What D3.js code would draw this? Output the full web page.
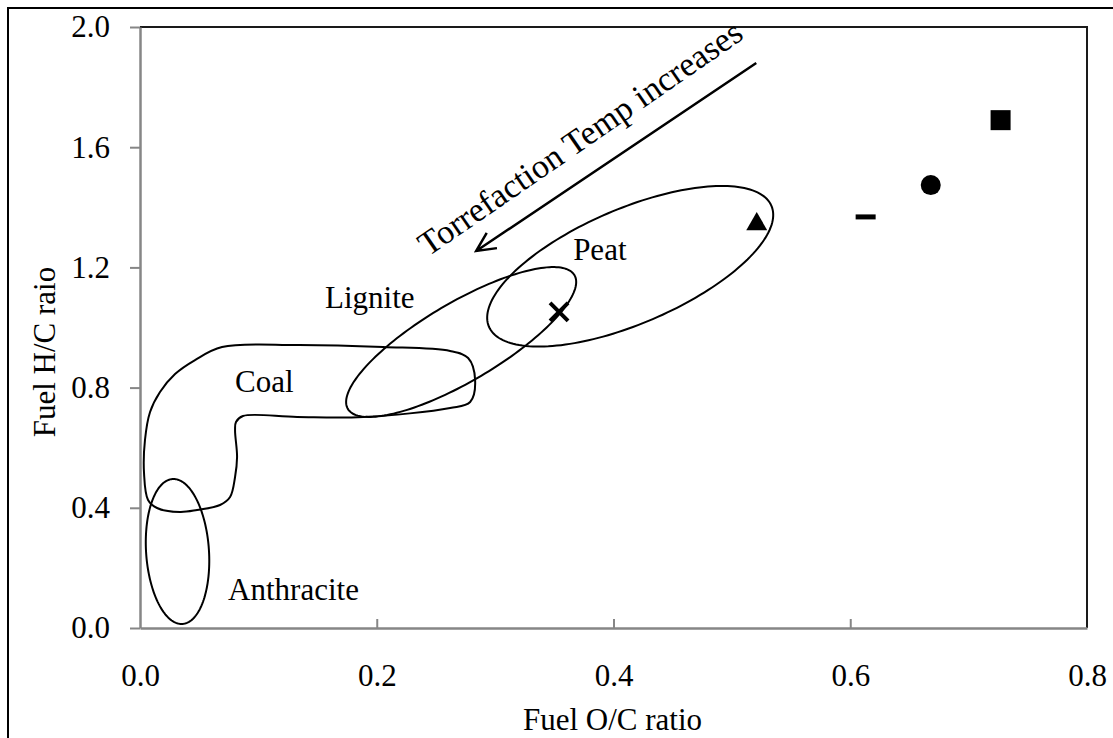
<!DOCTYPE html>
<html>
<head>
<meta charset="utf-8">
<script src="https://d3js.org/d3.v7.min.js"></script>
<style>
  body { margin: 0; background: #fff; }
  svg { display: block; font-family: "Liberation Serif", "Times New Roman", serif; }
</style>
</head>
<body>
<script>
// Axis ticks
const xTicks = [0, 0.2, 0.4, 0.6, 0.8];
const yTicks = [0, 0.4, 0.8, 1.2, 1.6, 2.0];

// Samples (O/C, H/C) and their marker
const sampleNames = ["raw", "T1", "T2", "T3", "T4"];
const sampleOC = [0.727, 0.668, 0.613, 0.521, 0.354];
const sampleHC = [1.690, 1.474, 1.368, 1.344, 1.052];
const sampleShape = ["square", "circle", "dash", "triangle", "cross"];

// Regions drawn as ellipses: centre and two conjugate half-axes, all in data units
const ellipseNames = ["Anthracite", "Lignite", "Peat"];
const ellipseCx = [0.0317, 0.2713, 0.4141];
const ellipseCy = [0.2546, 0.9517, 1.2037];
const ellipseA = [[-0.0034, 0.2413], [0.0957, 0.2226], [0.1193, 0.2013]];
const ellipseB = [[0.0266, 0], [0.0169, -0.1125], [0.0191, -0.1757]];

// Coal region outline (O/C, H/C)
const coalOC = [0.0693, 0.1327, 0.2054, 0.2620, 0.2772, 0.2831, 0.2789, 0.2620, 0.1885, 0.1327,
  0.0870, 0.0811, 0.0803, 0.0820, 0.0803, 0.0761, 0.0676, 0.0482, 0.0338, 0.0144,
  0.0068, 0.0034, 0.0042, 0.0085, 0.0169, 0.0296, 0.0465];
const coalHC = [0.9351, 0.9418, 0.9351, 0.9218, 0.8985, 0.8253, 0.7521, 0.7321, 0.7022, 0.7022,
  0.7055, 0.6855, 0.6589, 0.5691, 0.5025, 0.4359, 0.4093, 0.3927, 0.3860, 0.3993,
  0.4260, 0.5158, 0.6256, 0.7188, 0.7854, 0.8453, 0.8918];

// Region labels (left end of baseline, data units)
const labelText = ["Peat", "Lignite", "Coal", "Anthracite"];
const labelOC = [0.3659, 0.1563, 0.0803, 0.0744];
const labelHC = [1.2246, 1.0649, 0.7854, 0.0932];

// Trend arrow
const arrowFrom = [0.5206, 1.880];
const arrowTo = [0.284, 1.2546];
const arrowText = "Torrefaction Temp increases";
const arrowTextAt = [0.2434, 1.2346];

const W = 1113, H = 738;
const margin = { top: 27, right: 26, bottom: 110, left: 140 };
const width = W - margin.left - margin.right;
const height = H - margin.top - margin.bottom;
const fontSize = 31;

const svg = d3.select("body").append("svg")
  .attr("width", W)
  .attr("height", H);

// outer frame (only top and left edges are visible)
svg.append("path")
  .attr("d", `M8,${H} V8 H${W}`)
  .attr("fill", "none")
  .attr("stroke", "#000")
  .attr("stroke-width", 2);

const g = svg.append("g")
  .attr("transform", `translate(${margin.left},${margin.top})`);

const x = d3.scaleLinear().domain([0, 0.8]).range([0, width]);
const y = d3.scaleLinear().domain([0, 2.0]).range([height, 0]);

// top and right edges of plot area
g.append("path")
  .attr("d", `M0,0 H${width} V${height}`)
  .attr("fill", "none")
  .attr("stroke", "#1a1a1a")
  .attr("stroke-width", 2);

// axes
const yAxis = g.append("g")
  .call(d3.axisLeft(y).tickValues(yTicks).tickSize(10).tickSizeOuter(0)
    .tickPadding(20).tickFormat(d3.format(".1f")));

const xAxis = g.append("g")
  .attr("transform", `translate(0,${height})`)
  .call(d3.axisBottom(x).tickValues(xTicks).tickSizeInner(-9).tickSizeOuter(0)
    .tickPadding(36).tickFormat(d3.format(".1f")));

[xAxis, yAxis].forEach(a => {
  a.select(".domain").attr("stroke", "#868686").attr("stroke-width", 2.5);
  a.selectAll(".tick line").attr("stroke", "#868686").attr("stroke-width", 2);
  a.selectAll(".tick text")
    .attr("fill", "#000")
    .style("font-size", fontSize + "px")
    .style("font-family", "'Liberation Serif', 'Times New Roman', serif");
});
xAxis.selectAll(".tick").filter(d => d === 0 || d === 0.8).select("line").remove();

// axis titles
g.append("text")
  .attr("x", width / 2 - 1)
  .attr("y", height + 102)
  .attr("text-anchor", "middle")
  .style("font-size", fontSize + "px")
  .text("Fuel O/C ratio");

g.append("text")
  .attr("transform", `translate(${55 - margin.left},${352 - margin.top}) rotate(-90)`)
  .attr("text-anchor", "middle")
  .style("font-size", fontSize + "px")
  .text("Fuel H/C raio");

// regions
const line = d3.line().x(d => x(d[0])).y(d => y(d[1]));

ellipseNames.forEach((name, i) => {
  const pts = d3.range(180).map(k => {
    const t = 2 * Math.PI * k / 180;
    return [
      ellipseCx[i] + ellipseA[i][0] * Math.cos(t) + ellipseB[i][0] * Math.sin(t),
      ellipseCy[i] + ellipseA[i][1] * Math.cos(t) + ellipseB[i][1] * Math.sin(t)
    ];
  });
  g.append("path")
    .datum(pts)
    .attr("fill", "none")
    .attr("stroke", "#000")
    .attr("stroke-width", 2)
    .attr("d", line.curve(d3.curveLinearClosed));
});

g.append("path")
  .datum(coalOC.map((v, i) => [v, coalHC[i]]))
  .attr("fill", "none")
  .attr("stroke", "#000")
  .attr("stroke-width", 2)
  .attr("d", d3.line().x(d => x(d[0])).y(d => y(d[1])).curve(d3.curveCatmullRomClosed.alpha(0.5)));

// labels
labelText.forEach((t, i) => {
  g.append("text")
    .attr("x", x(labelOC[i]))
    .attr("y", y(labelHC[i]))
    .style("font-size", fontSize + "px")
    .text(t);
});

// arrow
const ax0 = x(arrowFrom[0]), ay0 = y(arrowFrom[1]);
const ax1 = x(arrowTo[0]), ay1 = y(arrowTo[1]);
const ang = Math.atan2(ay0 - ay1, ax0 - ax1);
const head = 21, spread = 26 * Math.PI / 180;
g.append("path")
  .attr("d", `M${ax0},${ay0} L${ax1},${ay1}` +
    ` M${ax1 + head * Math.cos(ang - spread)},${ay1 + head * Math.sin(ang - spread)} L${ax1},${ay1}` +
    ` L${ax1 + head * Math.cos(ang + spread)},${ay1 + head * Math.sin(ang + spread)}`)
  .attr("fill", "none")
  .attr("stroke", "#000")
  .attr("stroke-width", 2.5);

g.append("text")
  .attr("transform", `translate(${x(arrowTextAt[0])},${y(arrowTextAt[1])}) rotate(${ang * 180 / Math.PI - 0.8})`)
  .style("font-size", "34px")
  .text(arrowText);

// sample markers
sampleNames.forEach((n, i) => {
  const px = x(sampleOC[i]), py = y(sampleHC[i]);
  const shape = sampleShape[i];
  if (shape === "square") {
    g.append("rect").attr("x", px - 10).attr("y", py - 10).attr("width", 20).attr("height", 20).attr("fill", "#000");
  } else if (shape === "circle") {
    g.append("circle").attr("cx", px).attr("cy", py).attr("r", 10).attr("fill", "#000");
  } else if (shape === "triangle") {
    g.append("path")
      .attr("transform", `translate(${px},${py})`)
      .attr("d", d3.symbol().type(d3.symbolTriangle).size(190)())
      .attr("fill", "#000");
  } else if (shape === "dash") {
    g.append("rect").attr("x", px - 10).attr("y", py - 2.5).attr("width", 20).attr("height", 5).attr("fill", "#000");
  } else if (shape === "cross") {
    g.append("path")
      .attr("d", `M${px - 9},${py - 9} L${px + 9},${py + 9} M${px - 9},${py + 9} L${px + 9},${py - 9}`)
      .attr("stroke", "#000")
      .attr("stroke-width", 4);
  }
});
</script>
</body>
</html>
